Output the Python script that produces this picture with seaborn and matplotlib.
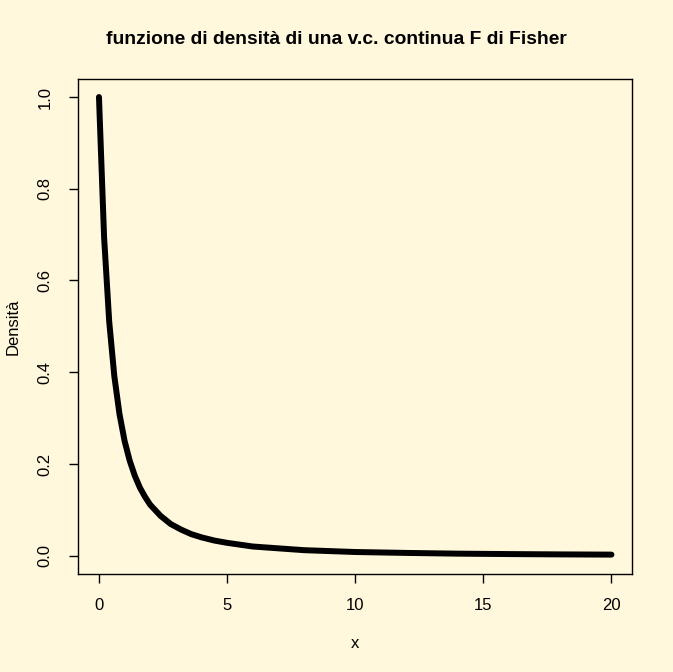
import matplotlib
matplotlib.use("Agg")
import matplotlib.pyplot as plt
import seaborn as sns
import pandas as pd

# values (F density curve)
x_vals = [0.0, 0.2, 0.4, 0.6, 0.8, 1.0, 1.2, 1.4, 1.6, 1.8, 2.0, 2.4, 2.8, 3.2,
          3.6, 4.0, 4.5, 5.0, 6.0, 7.0, 8.0, 9.0, 10.0, 12.0, 14.0, 16.0, 18.0, 20.0]
dens_vals = [1.000, 0.694, 0.510, 0.391, 0.309, 0.250, 0.207, 0.174, 0.148, 0.128,
             0.111, 0.087, 0.069, 0.057, 0.047, 0.040, 0.033, 0.028, 0.020, 0.016,
             0.012, 0.010, 0.008, 0.006, 0.0044, 0.0035, 0.0028, 0.0023]
x_ticks = [0, 5, 10, 15, 20]
y_ticks = [0.0, 0.2, 0.4, 0.6, 0.8, 1.0]
y_tick_labels = ["0.0", "0.2", "0.4", "0.6", "0.8", "1.0"]

title = "funzione di densità di una v.c. continua F di Fisher"
xlabel = "x"
ylabel = "Densità"

bg = "#FFF8DC"
sns.set_theme(style="ticks", rc={
    "figure.facecolor": bg, "axes.facecolor": bg, "savefig.facecolor": bg,
    "axes.edgecolor": "black", "axes.linewidth": 1.0,
    "xtick.color": "black", "ytick.color": "black",
    "xtick.labelcolor": "black", "ytick.labelcolor": "black",
    "text.color": "black", "axes.labelcolor": "black",
    "xtick.major.size": 6.5, "ytick.major.size": 6.5,
    "xtick.major.width": 1.0, "ytick.major.width": 1.0,
})
plt.rcParams["font.family"] = ["Liberation Sans", "DejaVu Sans"]

df = pd.DataFrame({"x": x_vals, "Densità": dens_vals})

fig = plt.figure(figsize=(6.73, 6.72), dpi=100)
ax = fig.add_axes([0.1166, 0.1458, 0.939 - 0.1166, 0.8829 - 0.1458])
sns.lineplot(data=df, x="x", y="Densità", ax=ax, color="black", linewidth=4.3,
             sort=False, solid_capstyle="round", solid_joinstyle="round")

ax.set_xlim(-0.8, 20.8)
ax.set_ylim(-0.04, 1.04)
ax.set_xticks(x_ticks)
ax.set_xticklabels([str(t) for t in x_ticks], fontsize=12)
ax.set_yticks(y_ticks)
ax.set_yticklabels(y_tick_labels, fontsize=12, rotation=90, va="center")
ax.tick_params(axis="x", pad=11)
ax.tick_params(axis="y", pad=12)

ax.set_xlabel(xlabel, fontsize=12)
ax.set_ylabel(ylabel, fontsize=12)
ax.xaxis.set_label_coords(0.5, (672 - 643 - 672 * 0.1458) / (672 * (0.8829 - 0.1458)), transform=ax.transAxes)
ax.yaxis.set_label_coords((13 - 78.5) / (673 * (0.939 - 0.1166)), 0.5)
ax.xaxis.label.set_va("center")
ax.yaxis.label.set_va("center")

for s in ax.spines.values():
    s.set_visible(True)
    s.set_color("black")

fig.text(0.5, 1 - 40 / 672, title, ha="center", va="center", fontsize=13.9,
         fontweight="bold", color="black")

fig.savefig("out.png", dpi=100)
